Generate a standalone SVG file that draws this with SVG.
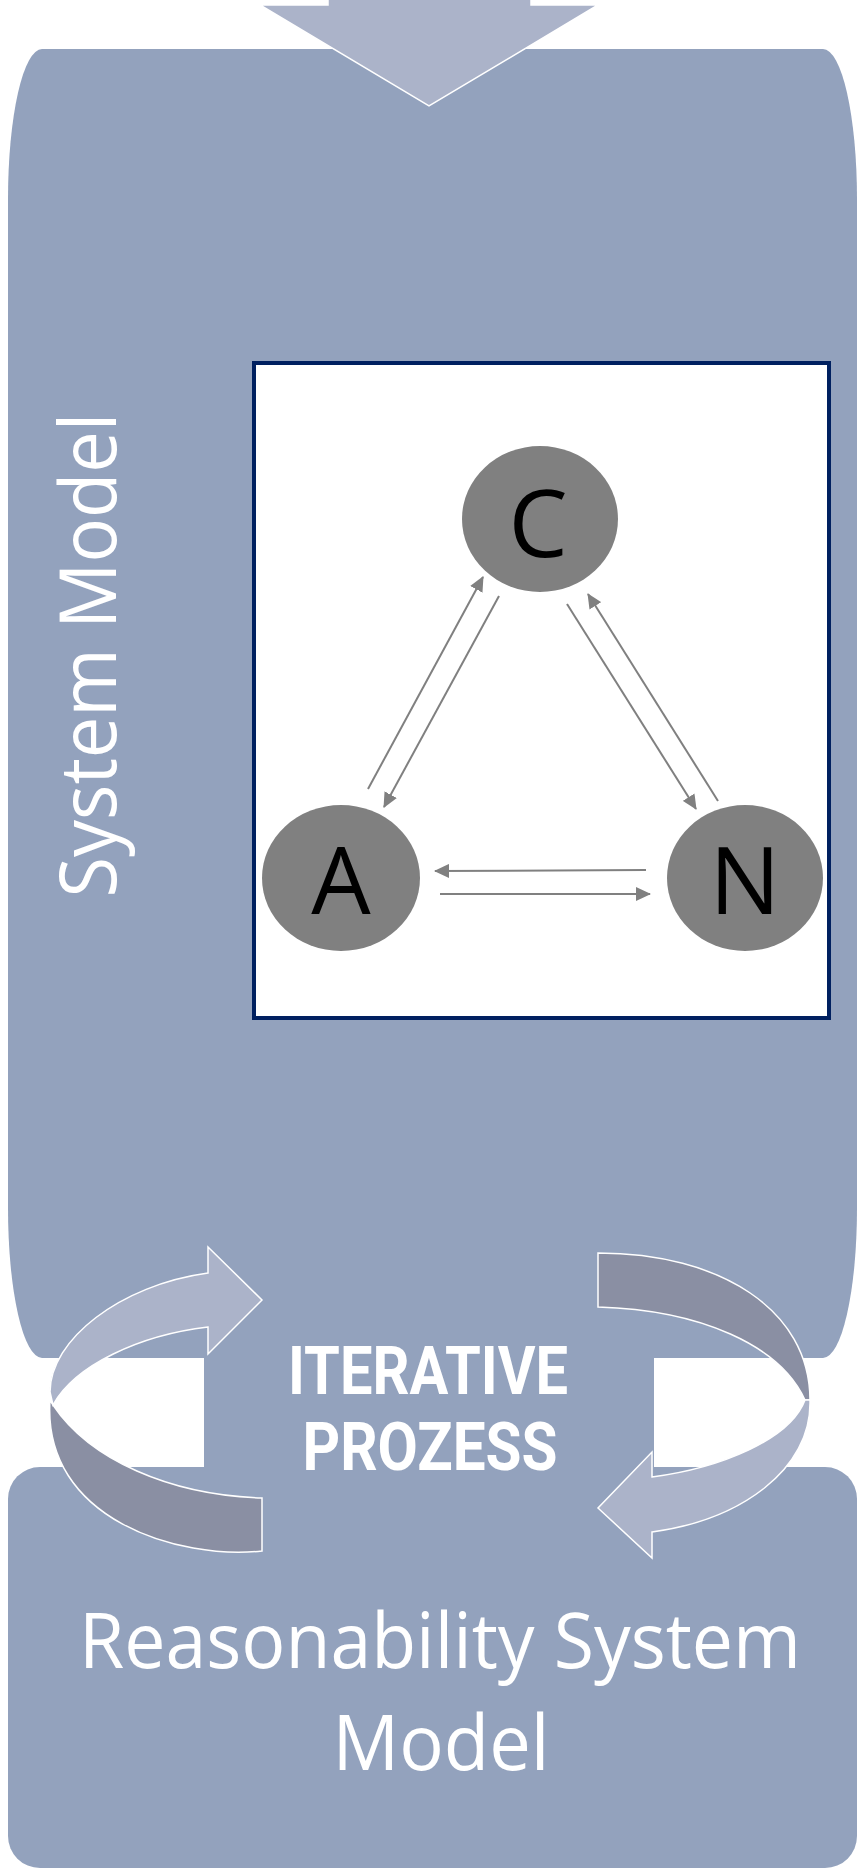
<svg xmlns="http://www.w3.org/2000/svg" width="858" height="1870" viewBox="0 0 858 1870">
<defs>
<style>
.box{fill:#93A2BD}
.light{fill:#ABB3C9;stroke:#FFFFFF;stroke-width:1.5}
.dark{fill:#8A8FA3;stroke:#FFFFFF;stroke-width:1.5}
.node{fill:#808080}
.lbl{font-family:"Open Sans","Noto Sans",sans-serif;font-size:94px;fill:#000000;text-anchor:middle}
.wt{font-family:"Open Sans","Noto Sans",sans-serif;fill:#FFFFFF;text-anchor:middle}
.it{font-family:Roboto,"Liberation Sans",sans-serif;font-weight:bold;font-size:66px;fill:#FFFFFF;text-anchor:middle}
.con{stroke:#808080;stroke-width:2;fill:none;marker-end:url(#ah)}
</style>
<marker id="ah" viewBox="0 0 15 14" markerWidth="15" markerHeight="14" refX="14" refY="7" orient="auto" markerUnits="userSpaceOnUse">
<path d="M0,0 L15,7 L0,14 Z" fill="#808080"/>
</marker>
</defs>
<rect width="858" height="1870" fill="#FFFFFF"/>

<g id="system-model">
<rect class="box" x="8" y="49" width="849" height="1309" rx="34" ry="150"/>
<text class="wt" font-size="78" transform="translate(116,655) rotate(-90)" x="0" y="0" textLength="485" lengthAdjust="spacingAndGlyphs">System Model</text>
</g>

<g id="reasonability-model">
<rect class="box" x="8" y="1467" width="849" height="401" rx="32" ry="32"/>
<text class="wt" font-size="76" x="440" y="1668" textLength="722" lengthAdjust="spacingAndGlyphs">Reasonability System</text>
<text class="wt" font-size="76" x="441" y="1770" textLength="217" lengthAdjust="spacingAndGlyphs">Model</text>
</g>

<g id="iterative-process">
<rect class="box" x="204" y="1340" width="450" height="140"/>
<path class="dark" d="M53,1405 C90,1460 170,1495 262,1498 L262,1551 C180,1560 42,1520 50,1400 Z"/>
<path class="light" d="M50,1392 C50,1340 120,1285 208,1273 L208,1247 L262,1300 L208,1354 L208,1327 C140,1335 75,1365 53,1405 Z"/>
<path class="dark" d="M598,1253 C720,1253 810,1310 810,1400 L805,1400 C780,1345 700,1310 598,1307 Z"/>
<path class="light" d="M810,1400 C812,1470 740,1520 652,1532 L652,1558 L598,1508 L652,1452 L652,1477 C720,1468 790,1440 805,1400 Z"/>
<text class="it" x="428" y="1394" textLength="280" lengthAdjust="spacingAndGlyphs">ITERATIVE</text>
<text class="it" x="430" y="1470" textLength="255" lengthAdjust="spacingAndGlyphs">PROZESS</text>
</g>

<g id="input-arrow">
<polygon class="light" points="328,-5 531,-5 531,5 598,5 429,106 260,5 328,5"/>
</g>

<g id="frame">
<rect x="254" y="363" width="575" height="655" fill="#FFFFFF" stroke="#002060" stroke-width="4"/>
</g>

<g id="connectors">
<line class="con" x1="368" y1="789" x2="483" y2="577"/>
<line class="con" x1="499" y1="596" x2="384" y2="807"/>
<line class="con" x1="567" y1="604" x2="696" y2="809"/>
<line class="con" x1="718" y1="801" x2="588" y2="594"/>
<line class="con" x1="646" y1="870" x2="435" y2="871"/>
<line class="con" x1="440" y1="894" x2="650" y2="894"/>
</g>

<g id="node-C">
<ellipse class="node" cx="540" cy="519" rx="78" ry="73"/>
<text class="lbl" x="538" y="557">C</text>
</g>
<g id="node-A">
<ellipse class="node" cx="341" cy="878" rx="79" ry="73"/>
<text class="lbl" x="341" y="914">A</text>
</g>
<g id="node-N">
<ellipse class="node" cx="745" cy="878" rx="78" ry="73"/>
<text class="lbl" x="745" y="914">N</text>
</g>
</svg>
